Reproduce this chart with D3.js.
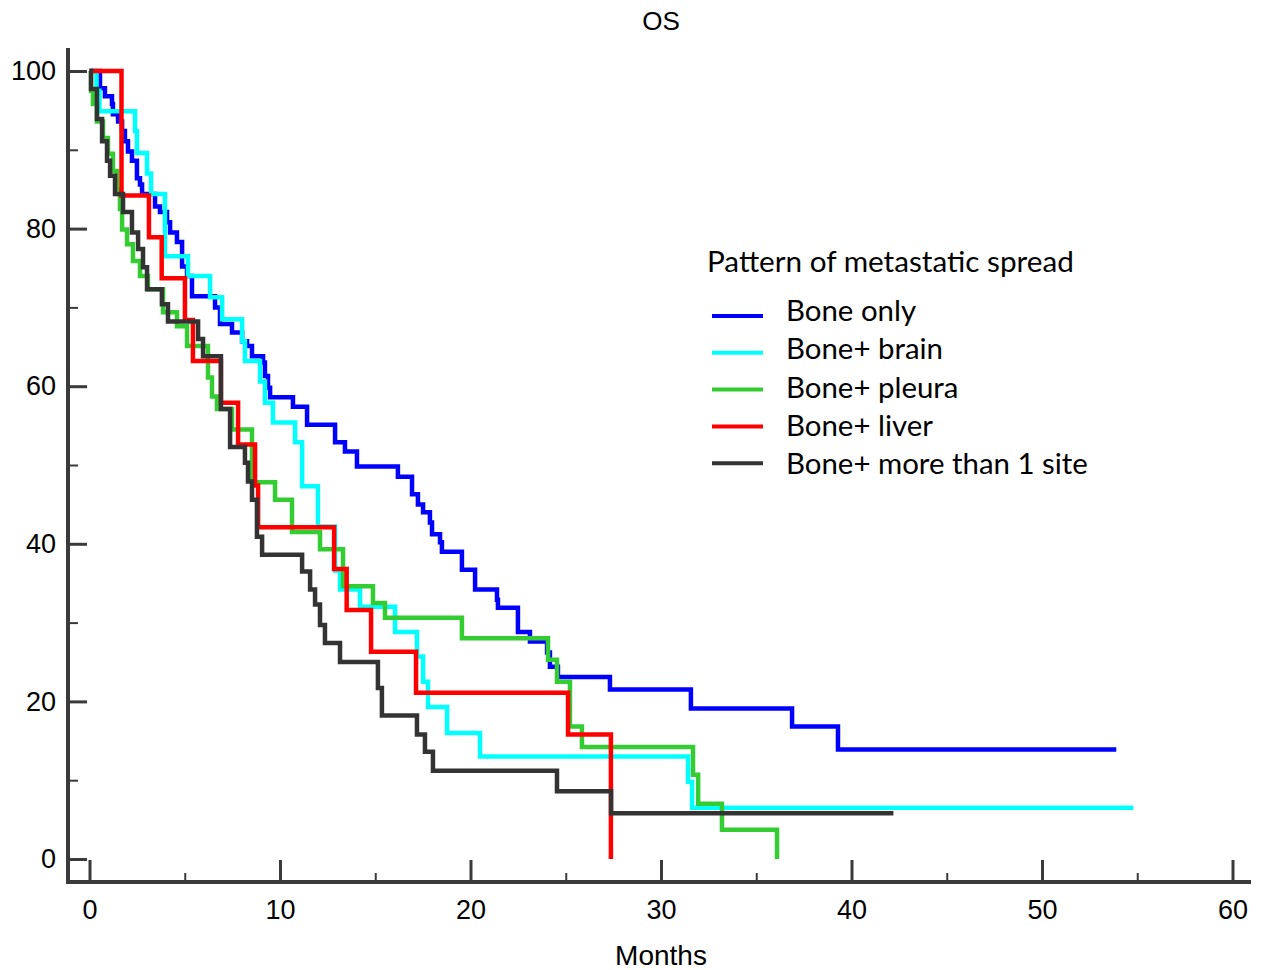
<!DOCTYPE html>
<html>
<head>
<meta charset="utf-8">
<script src="https://cdn.jsdelivr.net/npm/d3@7"></script>
<style>
  html, body { margin: 0; padding: 0; background: #fff; }
  svg { display: block; }
</style>
</head>
<body>
<svg id="chart" width="1267" height="970"></svg>
<script>
// ---------- DATA ----------
const chartTitle = "OS";
const xLabel = "Months";
const legendTitle = "Pattern of metastatic spread";
const seriesNames = ["Bone only", "Bone+ brain", "Bone+ pleura", "Bone+ liver", "Bone+ more than 1 site"];
const seriesColors = ["#0000ff", "#00ffff", "#33cc33", "#ff0000", "#333333"];

const xMajorTicks = [0, 10, 20, 30, 40, 50, 60];
const xMinorTicks = [5, 15, 25, 35, 45, 55];
const yMajorTicks = [0, 20, 40, 60, 80, 100];
const yMinorTicks = [10, 30, 50, 70, 90];

// [month, survival %] step points (value holds from that month on)
const boneOnly = [[0,100],[0.55,97.8],[0.81,96.8],[1.18,95.8],[1.23,94.5],[1.50,93.6],[1.71,92.4],[1.86,91.1],[2.02,89.8],[2.23,88.6],[2.49,86.4],[2.65,85.6],[2.76,84.4],[3.44,82.8],[3.70,82.1],[4.07,80.8],[4.23,79.5],[4.59,78.3],[4.86,75.2],[5.12,74.0],[5.38,71.4],[6.59,70.0],[6.85,67.9],[7.48,66.8],[8.01,65.7],[8.27,65.1],[8.53,63.8],[9.11,63.0],[9.21,61.3],[9.37,59.8],[9.48,58.6],[10.68,57.4],[11.42,55.1],[12.89,52.9],[13.41,51.7],[14.04,49.8],[16.19,48.5],[16.93,46.3],[17.24,45.0],[17.51,44.0],[17.87,42.7],[17.98,41.2],[18.40,40.2],[18.50,39.0],[19.55,36.7],[20.24,34.2],[21.39,32.9],[21.44,31.9],[22.49,28.8],[23.12,27.6],[24.02,26.2],[24.17,24.4],[24.59,23.1],[27.32,21.5],[31.57,19.1],[36.88,16.8],[39.29,13.9],[53.9,13.9]];
const boneBrain = [[0,100],[0.37,97.5],[0.52,94.9],[2.39,92.4],[2.49,89.6],[3.02,87.0],[3.23,84.4],[3.96,76.5],[5.17,74.0],[6.33,71.3],[6.96,68.5],[8.01,65.7],[8.16,63.2],[8.95,60.6],[9.21,57.9],[9.63,55.4],[10.79,52.9],[11.16,47.3],[11.99,42.2],[12.89,36.6],[13.15,34.2],[14.2,32.0],[16.04,28.8],[17.19,25.7],[17.51,22.5],[17.77,19.3],[18.77,16.0],[20.50,13.0],[31.42,9.8],[31.63,6.5],[54.8,6.5]];
const bonePleura = [[0,100],[0.08,97.5],[0.18,95.8],[0.39,93.6],[0.71,91.5],[0.97,89.5],[1.23,87.3],[1.44,85.0],[1.60,82.5],[1.71,79.9],[1.97,78.0],[2.28,75.9],[2.65,74.0],[3.07,72.3],[3.86,69.4],[4.59,67.6],[5.12,65.1],[6.22,61.1],[6.43,58.7],[6.69,57.1],[7.48,54.5],[8.53,47.8],[9.74,45.6],[10.63,41.5],[12.10,39.3],[13.31,34.6],[14.88,32.5],[15.51,30.6],[19.55,28.0],[24.07,25.3],[24.54,22.5],[25.22,16.8],[25.85,14.2],[31.68,10.7],[31.95,7.0],[33.20,3.7],[36.09,0]];
const boneLiver = [[0,100],[1.68,84.2],[3.12,78.9],[3.79,73.7],[5.01,68.4],[5.43,63.2],[6.90,57.9],[7.80,52.6],[8.69,47.4],[8.85,42.1],[12.84,36.8],[13.50,31.6],[14.78,26.3],[17.14,21.1],[25.12,15.8],[27.37,0]];
const boneMulti = [[0,100],[0.08,97.7],[0.39,93.9],[0.66,91.1],[0.92,88.6],[1.08,86.7],[1.34,84.4],[1.76,82.1],[2.23,79.5],[2.55,77.4],[2.81,75.1],[3.02,72.3],[3.80,70.4],[4.12,68.2],[5.70,66.0],[5.96,63.8],[6.90,57.1],[7.38,52.3],[8.16,50.3],[8.32,47.9],[8.53,45.6],[8.79,40.9],[9.06,38.6],[11.16,36.5],[11.58,34.2],[11.84,32.3],[12.10,29.7],[12.36,27.4],[13.15,25.0],[15.14,21.7],[15.35,18.2],[17.19,15.8],[17.61,13.6],[18.03,11.2],[24.54,8.6],[27.38,5.8],[42.2,5.8]];

const seriesData = [boneOnly, boneBrain, bonePleura, boneLiver, boneMulti];

// ---------- DRAW ----------
const svg = d3.select("#chart");
const axisColor = "#3a3a3a";
const axisFont = "'Liberation Sans', Arial, sans-serif";
const legendFont = "Lato, 'Open Sans', sans-serif";

const x = d3.scaleLinear().domain([0, 60]).range([89.5, 1232.5]);
const y = d3.scaleLinear().domain([0, 100]).range([859, 71]);

const axisX0 = 68, axisY0 = 882;

// axis lines
svg.append("line").attr("x1", axisX0).attr("x2", axisX0).attr("y1", 48).attr("y2", axisY0 + 2)
  .attr("stroke", axisColor).attr("stroke-width", 4);
svg.append("line").attr("x1", axisX0 - 2).attr("x2", 1251).attr("y1", axisY0).attr("y2", axisY0)
  .attr("stroke", axisColor).attr("stroke-width", 4);

function styleTicks(g, w) {
  g.select(".domain").remove();
  g.selectAll(".tick line").attr("stroke", axisColor).attr("stroke-width", w);
  g.selectAll(".tick text").remove();
}

// y ticks (inward)
svg.append("g").attr("transform", `translate(${axisX0},0)`)
  .call(d3.axisRight(y).tickValues(yMajorTicks).tickSize(19)).call(g => styleTicks(g, 3));
svg.append("g").attr("transform", `translate(${axisX0},0)`)
  .call(d3.axisRight(y).tickValues(yMinorTicks).tickSize(10)).call(g => styleTicks(g, 2));
// y labels
const yLab = svg.append("g").attr("transform", `translate(${axisX0},0)`)
  .call(d3.axisLeft(y).tickValues(yMajorTicks).tickSize(0).tickPadding(12));
yLab.select(".domain").remove();
yLab.selectAll("text").attr("font-family", axisFont).attr("font-size", 27).attr("fill", "#000");

// x ticks (inward, upward)
svg.append("g").attr("transform", `translate(0,${axisY0})`)
  .call(d3.axisTop(x).tickValues(xMajorTicks).tickSize(22)).call(g => styleTicks(g, 3));
svg.append("g").attr("transform", `translate(0,${axisY0})`)
  .call(d3.axisTop(x).tickValues(xMinorTicks).tickSize(9)).call(g => styleTicks(g, 2));
// x labels
const xLab = svg.append("g").attr("transform", `translate(0,${axisY0})`)
  .call(d3.axisBottom(x).tickValues(xMajorTicks).tickSize(0).tickPadding(18));
xLab.select(".domain").remove();
xLab.selectAll("text").attr("font-family", axisFont).attr("font-size", 27).attr("fill", "#000");

// titles
svg.append("text").attr("x", 661).attr("y", 30).attr("text-anchor", "middle")
  .attr("font-family", axisFont).attr("font-size", 26).text(chartTitle);
svg.append("text").attr("x", 661).attr("y", 965).attr("text-anchor", "middle")
  .attr("font-family", axisFont).attr("font-size", 28).text(xLabel);

// curves
const line = d3.line().x(d => x(d[0])).y(d => y(d[1])).curve(d3.curveStepAfter);
const order = [0, 1, 2, 3, 4];
svg.append("g").selectAll("path").data(order).join("path")
  .attr("d", i => line(seriesData[i]))
  .attr("fill", "none")
  .attr("stroke", i => seriesColors[i])
  .attr("stroke-width", 4.5)
  .attr("stroke-linejoin", "miter")
  .attr("stroke-linecap", "butt");

// legend
function fitText(sel, targetW, startSize) {
  sel.attr("font-size", startSize);
  const w = sel.node().getComputedTextLength();
  sel.attr("font-size", startSize * targetW / w);
}
const lt = svg.append("text").attr("x", 707).attr("y", 272)
  .attr("font-family", legendFont).attr("fill", "#000").text(legendTitle);
fitText(lt, 367, 28);

const lineY0 = 316, lineStep = 36.8;
const textY0 = 321, textStep = 38.25;
const lg = svg.append("g");
seriesNames.forEach((name, i) => {
  const yy = lineY0 + i * lineStep;
  lg.append("line").attr("x1", 712).attr("x2", 763).attr("y1", yy).attr("y2", yy)
    .attr("stroke", seriesColors[i]).attr("stroke-width", 4);
});
const entries = lg.selectAll("text.entry").data(seriesNames).join("text")
  .attr("class", "entry")
  .attr("x", 786).attr("y", (d, i) => textY0 + i * textStep)
  .attr("font-family", legendFont).attr("fill", "#000").text(d => d);
// size from the longest entry
const longest = entries.filter((d, i) => i === 4);
longest.attr("font-size", 28);
const lw = longest.node().getComputedTextLength();
entries.attr("font-size", 28 * 302 / lw);
</script>
</body>
</html>
